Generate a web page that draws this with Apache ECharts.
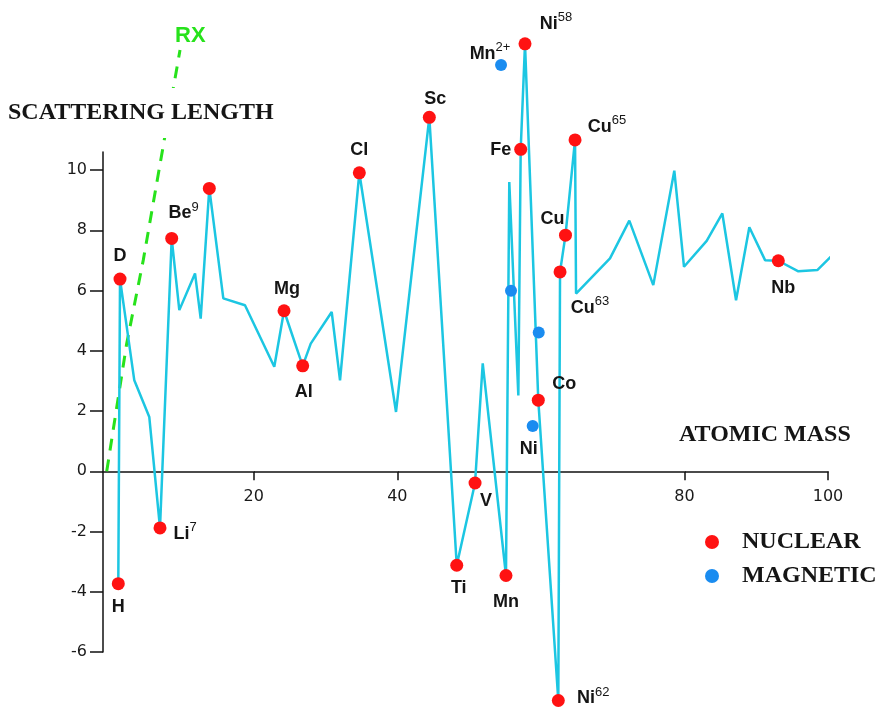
<!DOCTYPE html>
<html>
<head>
<meta charset="utf-8">
<script src="https://cdn.jsdelivr.net/npm/echarts@6/dist/echarts.min.js"></script>
<style>
  html, body { margin: 0; padding: 0; background: #fff; }
  #main { width: 877px; height: 708px; }
</style>
</head>
<body>
<div id="main"></div>
<script>
// scattering length profile (atomic mass, length)
var massX = [1.13, 1.37, 3.36, 5.45, 6.94, 8.57, 9.63, 11.82, 12.61, 13.81, 15.76, 18.78, 22.86, 24.22, 26.82, 27.94, 30.86, 32.02, 34.71, 39.82, 44.46, 48.28, 50.83, 51.90, 55.14, 55.60, 56.86, 57.19, 57.79, 59.64, 62.43, 62.67, 63.43, 64.76, 64.90, 69.63, 72.32, 75.66, 78.59, 79.94, 83.10, 85.28, 87.19, 89.04, 91.23, 93.08, 95.87, 98.51, 101.44];
var lengthY = [-3.73, 6.38, 3.02, 1.80, -1.88, 7.73, 5.35, 6.57, 5.07, 9.39, 5.74, 5.51, 3.47, 5.33, 3.50, 4.24, 5.29, 3.02, 9.91, 1.97, 11.75, -3.12, -0.39, 3.58, -3.46, 9.60, 2.52, 10.69, 14.19, 2.36, -7.61, 6.62, 7.84, 11.00, 5.90, 7.07, 8.32, 6.18, 9.98, 6.79, 7.65, 8.56, 5.68, 8.10, 7.01, 6.99, 6.64, 6.68, 7.37];

// nuclear points
var nucX = [1.13, 1.37, 6.94, 8.57, 13.81, 24.22, 26.82, 34.71, 44.46, 48.28, 50.83, 55.14, 57.19, 57.79, 59.64, 62.43, 62.67, 63.43, 64.76, 93.08];
var nucY = [-3.73, 6.38, -1.88, 7.73, 9.39, 5.33, 3.50, 9.91, 11.75, -3.12, -0.39, -3.46, 10.69, 14.19, 2.36, -7.61, 6.62, 7.84, 11.00, 6.99];
var nucSym = ['H', 'D', 'Li', 'Be', '', 'Mg', 'Al', 'Cl', 'Sc', 'Ti', 'V', 'Mn', 'Fe', 'Ni', 'Co', 'Ni', '', 'Cu', 'Cu', 'Nb'];
var nucIso = ['', '', '7', '9', '', '', '', '', '', '', '', '', '', '58', '', '62', '', '', '65', ''];

// magnetic points
var magX = [54.45, 55.84, 59.70, 58.86];
var magY = [13.49, 5.99, 4.61, 1.50];
var magSym = ['Mn', '', '', 'Ni'];
var magIon = ['2+', '', '', ''];

// Cu63 tag on the line
var tagX = [64.90];
var tagY = [5.90];
var tagSym = ['Cu'];
var tagIso = ['63'];

// X-ray line
var rxMass = [-0.48, 2.30, 4.61, 9.73];
var rxLength = [0, 4.24, 7.01, 13.99];

var xTicks = [20, 40, 80, 100];
var yTicks = [-6, -4, -2, 0, 2, 4, 6, 8, 10];

// label offsets (px) from dot centre
var labelOffset = {
  'H': [0, 23], 'D': [0, -23], 'Li7': [25, 6], 'Be9': [12, -25], 'Mg': [3, -22],
  'Al': [1, 26], 'Cl': [0, -23], 'Sc': [6, -18], 'Ti': [2, 23], 'V': [11, 18],
  'Mn': [0, 27], 'Fe': [-20, 1], 'Ni58': [31, -20], 'Co': [26, -16], 'Ni62': [35, -2],
  'Cu': [-13, -16], 'Cu65': [32, -13], 'Nb': [5, 27], 'Mn2+': [-11, -11], 'Ni': [-4, 23],
  'Cu63': [14, 14]
};

var rich = {
  m: { fontSize: 18, fontWeight: 'bold', fontFamily: 'Liberation Sans', color: '#151515', lineHeight: 26 },
  s: { fontSize: 13, fontFamily: 'Liberation Sans', color: '#151515', lineHeight: 12, verticalAlign: 'top' }
};

function pointItems(xs, ys, syms, sups) {
  return xs.map(function (x, i) {
    var item = { value: [x, ys[i]] };
    if (syms[i]) {
      var key = syms[i] + sups[i];
      var off = labelOffset[key] || [0, -22];
      item.label = {
        show: true,
        position: 'inside',
        offset: off,
        formatter: sups[i] ? '{m|' + syms[i] + '}{s|' + sups[i] + '}' : '{m|' + syms[i] + '}',
        rich: rich
      };
    }
    return item;
  });
}

var chart = echarts.init(document.getElementById('main'));

var option = {
  backgroundColor: '#fff',
  animation: false,
  grid: { left: 103, right: 49, top: 152, bottom: 56 },
  legend: {
    orient: 'vertical',
    left: 700,
    top: 525,
    icon: 'circle',
    itemWidth: 50,
    itemHeight: 14,
    itemGap: 10,
    textStyle: { fontFamily: 'Liberation Serif', fontWeight: 'bold', fontSize: 24, color: '#151515', lineHeight: 24 },
    data: ['NUCLEAR', 'MAGNETIC']
  },
  xAxis: {
    type: 'value',
    min: -1,
    max: 100,
    axisLine: { onZero: true, lineStyle: { color: '#111', width: 1.5 } },
    axisTick: { show: true, length: 9, customValues: xTicks, lineStyle: { color: '#111', width: 1.5 } },
    axisLabel: { show: false },
    splitLine: { show: false }
  },
  yAxis: {
    type: 'value',
    min: -6,
    max: 10.6,
    axisLine: { show: true, onZero: false, lineStyle: { color: '#111', width: 1.5 } },
    axisTick: { show: true, length: 13, customValues: yTicks, lineStyle: { color: '#111', width: 1.5 } },
    axisLabel: { customValues: yTicks, margin: 16, fontFamily: 'DejaVu Sans', fontSize: 16, color: '#1a1a1a' },
    splitLine: { show: false }
  },
  graphic: [
    {
      type: 'text', left: 2, top: 88, z: 100,
      style: { text: 'SCATTERING LENGTH', font: 'bold 24px "Liberation Serif"', fill: '#151515', backgroundColor: '#fff', padding: [13, 6] }
    },
    { type: 'text', left: 679, top: 423, z: 100, style: { text: 'ATOMIC MASS', font: 'bold 24px "Liberation Serif"', fill: '#151515' } },
    { type: 'text', left: 175, top: 25, style: { text: 'RX', font: 'bold 22px "Liberation Sans"', fill: '#27e21b' } }
  ],
  series: [
    {
      name: 'RX',
      type: 'line',
      data: rxMass.map(function (x, i) { return [x, rxLength[i]]; }),
      symbol: 'none',
      clip: false,
      lineStyle: { color: '#27e21b', width: 3, type: [12, 9] },
      z: 1
    },
    {
      name: 'profile',
      type: 'line',
      data: massX.map(function (x, i) { return [x, lengthY[i]]; }),
      symbol: 'none',
      clip: false,
      lineStyle: { color: '#1cc6e2', width: 2.5 },
      z: 2
    },
    {
      name: 'xLabels',
      type: 'scatter',
      data: xTicks.map(function (v) { return [v, 0]; }),
      symbolSize: 0.5,
      itemStyle: { color: '#fff', opacity: 1 },
      clip: false,
      label: {
        show: true,
        position: 'inside',
        offset: [0, 26],
        formatter: function (p) { return String(p.value[0]); },
        fontFamily: 'DejaVu Sans',
        fontSize: 16,
        color: '#1a1a1a'
      },
      z: 3
    },
    {
      name: 'tag',
      type: 'scatter',
      data: pointItems(tagX, tagY, tagSym, tagIso),
      symbolSize: 0.5,
      itemStyle: { color: '#1cc6e2', opacity: 1 },
      clip: false,
      z: 3
    },
    {
      name: 'NUCLEAR',
      type: 'scatter',
      data: pointItems(nucX, nucY, nucSym, nucIso),
      symbolSize: 13,
      itemStyle: { color: '#ff1212', opacity: 1 },
      clip: false,
      z: 4
    },
    {
      name: 'MAGNETIC',
      type: 'scatter',
      data: pointItems(magX, magY, magSym, magIon),
      symbolSize: 12,
      itemStyle: { color: '#1a8cf0', opacity: 1 },
      clip: false,
      z: 4
    }
  ]
};

chart.setOption(option);
</script>
</body>
</html>
